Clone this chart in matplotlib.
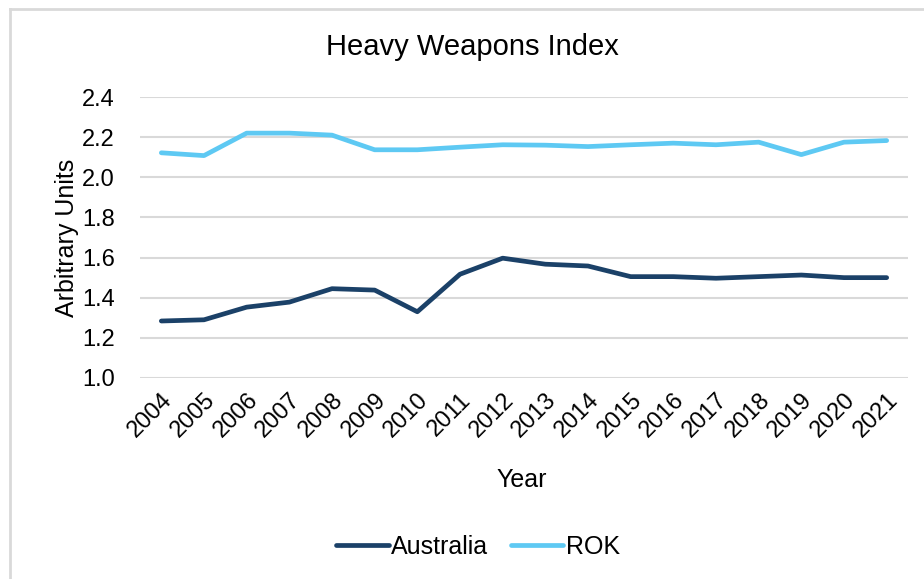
import matplotlib
matplotlib.use('Agg')
import matplotlib.pyplot as plt
from matplotlib.lines import Line2D

plt.rcParams['font.family'] = ['Liberation Sans', 'DejaVu Sans']

# data
years = [str(y) for y in range(2004, 2022)]
australia = [1.284, 1.29, 1.353, 1.378, 1.445, 1.438, 1.33, 1.517, 1.597,
             1.567, 1.558, 1.505, 1.505, 1.497, 1.505, 1.513, 1.50, 1.50]
rok = [2.122, 2.108, 2.22, 2.22, 2.21, 2.137, 2.137, 2.15, 2.162,
       2.16, 2.153, 2.162, 2.17, 2.162, 2.175, 2.113, 2.175, 2.183]
y_ticks = [1.0, 1.2, 1.4, 1.6, 1.8, 2.0, 2.2, 2.4]

W, H = 924, 579
fig = plt.figure(figsize=(W / 100, H / 100), dpi=100)
ax = fig.add_axes([140 / W, 1 - 378 / H, 768 / W, 281 / H])

x = range(len(years))
ax.plot(x, australia, color='#1b4168', lw=3.4, solid_capstyle='round',
        solid_joinstyle='round', label='Australia', zorder=3)
ax.plot(x, rok, color='#5ec9f3', lw=3.4, solid_capstyle='round',
        solid_joinstyle='round', label='ROK', zorder=3)

ax.set_xlim(-0.5, len(years) - 0.5)
ax.set_ylim(1.0, 2.4)
ax.set_yticks(y_ticks)
ax.set_yticklabels([f'{v:.1f}' for v in y_ticks], fontsize=17)
ax.set_xticks(list(x))
ax.set_xticklabels(years, fontsize=17, rotation=45, ha='right',
                   rotation_mode='anchor')
ax.tick_params(length=0, pad=8)
ax.tick_params(axis='y', pad=18)
ax.grid(axis='y', color='#d9d9d9', lw=1.5)
ax.set_axisbelow(True)
for s in ax.spines.values():
    s.set_visible(False)

ax.set_ylabel('Arbitrary Units', fontsize=18, labelpad=2)
fig.text(522 / W, 1 - 480 / H, 'Year', fontsize=18, ha='center', va='center')
fig.text(472 / W, 1 - 47 / H, 'Heavy Weapons Index', fontsize=21,
         ha='center', va='center')

handles = [Line2D([], [], color='#1b4168', lw=3.4, solid_capstyle='round'),
           Line2D([], [], color='#5ec9f3', lw=3.4, solid_capstyle='round')]
fig.legend(handles, ['Australia', 'ROK'], loc='center',
           bbox_to_anchor=(478 / W, 1 - 547 / H), ncol=2, frameon=False,
           fontsize=18, handlelength=2.1, handletextpad=0.1, columnspacing=0.9)

# chart area border (only top and left visible)
fig.add_artist(Line2D([10 / W, 10 / W], [1 - 9 / H, 0], color='#d9d9d9',
                      lw=2, transform=fig.transFigure))
fig.add_artist(Line2D([10 / W, 1], [1 - 9 / H, 1 - 9 / H], color='#d9d9d9',
                      lw=2, transform=fig.transFigure))

fig.savefig('out.png', dpi=100)
